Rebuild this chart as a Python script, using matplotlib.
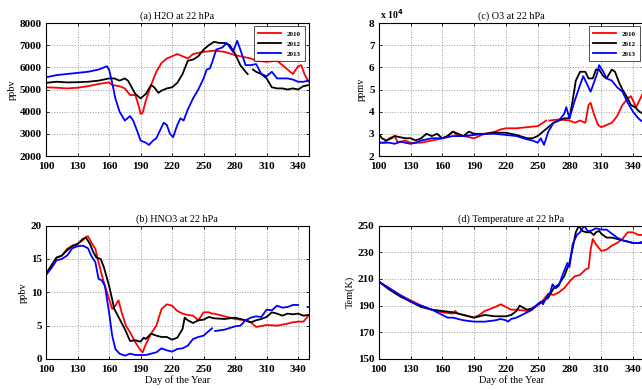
import numpy as np
import matplotlib
matplotlib.use('Agg')
import matplotlib.pyplot as plt

nan = np.nan

# (a) H2O at 22 hPa, ppbv
h2o_2010_day = [100, 110, 120, 130, 140, 150, 160, 163, 170, 175, 180, 185, 188, 190, 192, 195, 200, 205, 210, 215,
                220, 225, 230, 235, 240, 250, 260, 270, 280, 290, 295, 300, 310, 320, 325, 330, 335, 340, 343, 346, 350]
h2o_2010 = [5100, 5080, 5050, 5080, 5150, 5250, 5320, 5200, 5150, 5050, 4750, 4750, 4300, 3900, 3950, 4500, 5200, 5800,
            6200, 6400, 6500, 6600, 6500, 6400, 6600, 6700, 6750, 6700, 6550, 6450, 6400, 6300, 6250, 6300, 6100, 5900,
            5700, 6050, 6100, 5700, 5350]
h2o_2012_day = [100, 110, 120, 130, 140, 150, 160, 165, 170, 175, 178, 185, 190, 195, 200, 203, 207, 210, 215, 220,
                225, 230, 235, 240, 245, 250, 255, 260, 265, 270, 275, 280, 285, 290, 292, 294, 297, 300, 305, 310,
                315, 320, 325, 330, 335, 340, 345, 350]
h2o_2012 = [5300, 5350, 5320, 5330, 5350, 5400, 5500, 5500, 5400, 5500, 5400, 4800, 4600, 4800, 5200, 5100, 4850, 4950,
            5050, 5100, 5300, 5700, 6300, 6350, 6500, 6800, 7000, 7150, 7100, 7100, 7000, 6600, 6100, 5800, 5700, nan,
            5900, 5800, 5700, 5500, 5100, 5050, 5050, 5000, 5050, 5000, 5150, 5200]
h2o_2013_day = [100, 110, 120, 130, 140, 150, 158, 160, 163, 166, 170, 175, 180, 183, 187, 190, 195, 198, 202, 205,
                208, 212, 215, 218, 221, 225, 228, 231, 235, 240, 245, 250, 253, 256, 258, 262, 268, 272, 275, 278,
                282, 285, 290, 295, 300, 305, 310, 315, 320, 325, 330, 335, 340, 345, 350]
h2o_2013 = [5550, 5650, 5700, 5750, 5800, 5900, 6050, 5900, 5300, 4600, 4000, 3600, 3800, 3600, 3100, 2700, 2600, 2500,
            2700, 2800, 3100, 3500, 3400, 3000, 2850, 3400, 3700, 3600, 4100, 4600, 5000, 5500, 5900, 5950, 6200, 6800,
            6900, 7100, 6900, 6700, 7200, 6800, 6100, 6100, 6150, 5700, 5600, 5800, 5500, 5500, 5500, 5450, 5350, 5350,
            5400]

# (b) HNO3 at 22 hPa, ppbv
hno3_2010_day = [100, 105, 110, 115, 120, 125, 130, 135, 138, 140, 143, 147, 150, 155, 160, 163, 166, 169, 172, 176,
                 180, 185, 190, 192, 195, 200, 205, 210, 215, 220, 225, 230, 235, 240, 245, 250, 255, 258, 260, 270,
                 280, 290, 295, 300, 310, 320, 330, 335, 340, 345, 350]
hno3_2010 = [12.8, 14, 15.2, 15.5, 16.5, 17, 17.3, 17.8, 18.3, 18.4, 17.5, 16.5, 14.5, 11.5, 9, 7.5, 8, 8.8, 7, 5,
             4, 2.5, 1.3, 1, 2.2, 3.8, 5, 7.5, 8.2, 8, 7.2, 6.8, 6.6, 6.5, 5.8, 7, 7, 6.8, 6.8, 6.4,
             6, 5.8, 5.5, 4.8, 5.1, 5, 5.3, 5.5, 5.6, 5.6, 6.5]
hno3_2012_day = [100, 105, 110, 115, 120, 125, 130, 135, 138, 142, 145, 148, 152, 155, 160, 165, 170, 175, 180, 185,
                 190, 193, 195, 200, 205, 210, 215, 220, 225, 230, 232, 235, 240, 245, 250, 255, 260, 270, 280, 290,
                 295, 300, 305, 310, 315, 320, 325, 330, 335, 340, 345, 350]
hno3_2012 = [12.7, 14, 15.2, 15.5, 16.3, 16.9, 17.2, 18, 18.2, 17.2, 16, 15.2, 15, 13.8, 11, 7.5, 6, 4.5, 2.7, 2.8,
             2.6, 3.2, 3, 3.8, 3.5, 3.3, 3.3, 2.9, 3.2, 4.5, 6.2, 5.8, 5.4, 5.8, 5.9, 6.3, 6.1, 6, 6.2, 5.8,
             5.5, 5.8, 6, 6.3, 7, 6.8, 6.5, 6.8, 6.7, 6.8, 6.5, 6.6]
hno3_2013_day = [100, 105, 110, 115, 120, 125, 130, 135, 140, 143, 147, 150, 153, 156, 160, 163, 166, 170, 175, 180,
                 185, 190, 195, 200, 205, 210, 215, 220, 225, 230, 235, 240, 245, 250, 255, 258, 259, 261, 270, 280,
                 285, 290, 295, 300, 305, 310, 315, 320, 325, 330, 335, 340, 345, 349, 350]
hno3_2013 = [12.6, 13.6, 14.8, 15, 15.5, 16.6, 16.9, 17, 16.6, 15.5, 14.5, 12, 11.8, 11, 7, 3.5, 1.5, 0.8, 0.5, 0.8,
             0.6, 0.6, 0.6, 0.8, 1.0, 1.6, 1.3, 1.1, 1.5, 1.6, 2, 3, 3.3, 3.5, 4.2, 4.6, nan, 4.2, 4.4, 4.9,
             5.0, 5.8, 6.2, 6.4, 6.3, 7.4, 7.3, 8, 7.7, 7.8, 8.1, 8.1, nan, 7.8, 7.8]

# (c) O3 at 22 hPa, ppmv (x 10^4)
o3_2010_day = [100, 105, 110, 115, 118, 125, 130, 140, 150, 160, 165, 170, 175, 180, 190, 200, 210, 215, 220, 230,
               240, 250, 255, 258, 259, 261, 270, 280, 285, 290, 295, 298, 300, 303, 307, 310, 315, 320, 325, 330,
               335, 338, 340, 343, 346, 350]
o3_2010 = [2.6, 2.6, 2.8, 2.9, 2.6, 2.7, 2.6, 2.6, 2.7, 2.8, 2.9, 3.1, 2.9, 2.9, 2.8, 3.0, 3.1, 3.2, 3.25, 3.25,
           3.3, 3.35, 3.5, 3.6, nan, 3.6, 3.65, 3.6, 3.5, 3.6, 3.5, 4.3, 4.4, 3.9, 3.4, 3.3, 3.4, 3.5, 3.8, 4.3,
           4.6, 4.7, 4.5, 4.2, 4.5, 4.9]
o3_2012_day = [100, 103, 107, 112, 115, 120, 125, 130, 135, 140, 145, 150, 155, 160, 165, 170, 175, 180, 185, 190,
               200, 210, 220, 230, 240, 245, 250, 255, 260, 265, 270, 275, 280, 283, 286, 290, 295, 298, 302, 305,
               308, 312, 315, 320, 323, 327, 330, 335, 338, 342, 346, 350]
o3_2012 = [3.0, 2.8, 2.7, 2.8, 2.9, 2.85, 2.8, 2.8, 2.7, 2.8, 3.0, 2.9, 3.0, 2.8, 2.9, 3.1, 3.0, 2.9, 3.1, 3.0,
           3.0, 3.05, 3.05, 2.95, 2.8, 2.8, 2.9, 3.1, 3.3, 3.5, 3.6, 3.7, 3.7, 4.5, 5.4, 5.8, 5.8, 5.5, 5.5, 5.9,
           5.9, 5.6, 5.5, 5.9, 5.8, 5.3, 5.0, 4.6, 4.3, 4.2, 4.0, 3.9]
o3_2013_day = [100, 105, 110, 115, 120, 125, 130, 135, 140, 150, 160, 170, 180, 190, 200, 210, 220, 230, 240, 245,
               250, 253, 256, 260, 265, 270, 275, 277, 280, 285, 290, 293, 297, 300, 303, 306, 308, 312, 315, 320,
               325, 330, 335, 340, 345, 350]
o3_2013 = [2.6, 2.6, 2.6, 2.55, 2.65, 2.6, 2.55, 2.6, 2.7, 2.8, 2.8, 2.9, 2.9, 2.95, 3.0, 3.0, 2.95, 2.9, 2.75, 2.7,
           2.6, 2.8, 2.5, 3.1, 3.5, 3.6, 3.9, 4.2, 3.7, 4.5, 5.2, 5.6, 5.2, 4.9, 5.3, 5.7, 6.1, 5.8, 5.5, 5.4,
           5.1, 4.9, 4.4, 4.0, 3.7, 3.5]

# (d) Temperature at 22 hPa, K
t_2010_day = [100, 110, 120, 130, 140, 150, 160, 170, 172, 175, 180, 190, 195, 200, 210, 215, 220, 225, 230, 240,
              250, 255, 260, 265, 270, 275, 280, 285, 290, 295, 298, 300, 302, 305, 310, 315, 320, 325, 330, 335,
              340, 345, 350]
t_2010 = [208, 203, 198, 194, 190, 187, 185, 184, 186, 184, 183, 181, 183, 186, 189, 191, 189, 187, 187, 186,
          190, 194, 199, 198, 200, 203, 208, 212, 213, 217, 218, 232, 240, 236, 231, 232, 235, 237, 240, 245,
          245, 243, 243]
t_2012_day = [100, 110, 120, 130, 140, 150, 160, 170, 180, 185, 190, 200, 210, 220, 225, 230, 233, 235, 240, 245,
              250, 255, 260, 265, 270, 275, 278, 280, 283, 286, 289, 292, 296, 300, 303, 305, 308, 310, 315, 320,
              330, 335, 340, 345, 350]
t_2012 = [208, 202, 197, 193, 189, 187, 186, 185, 183, 182, 181, 183, 182, 182, 183, 186, 190, 189, 187, 188,
          191, 193, 196, 203, 206, 212, 218, 222, 233, 245, 250, 246, 245, 245, 243, 245, 246, 244, 241, 241,
          239, 238, 237, 237, 237]
t_2013_day = [100, 110, 120, 130, 140, 150, 160, 165, 170, 180, 190, 200, 210, 215, 220, 222, 225, 230, 235, 240,
              245, 250, 253, 255, 258, 262, 264, 267, 270, 273, 276, 278, 280, 283, 287, 290, 294, 297, 300, 305,
              310, 315, 320, 325, 330, 335, 340, 345, 350]
t_2013 = [208, 203, 198, 193, 190, 187, 183, 181, 181, 179, 178, 178, 179, 180, 179, 178, 180, 181, 183, 185,
          187, 191, 193, 191, 196, 200, 206, 203, 205, 212, 218, 222, 219, 236, 243, 245, 250, 246, 246, 248,
          247, 247, 244, 241, 239, 238, 237, 237, 238]

years = ['2010', '2012', '2013']
colors = ['#ff0000', '#000000', '#0000ff']
xticks = [100, 130, 160, 190, 220, 250, 280, 310, 340]

plt.rcParams['font.family'] = ['Liberation Serif', 'DejaVu Serif']
plt.rcParams['font.weight'] = 'bold'
plt.rcParams['font.size'] = 7

fig = plt.figure(figsize=(6.42, 3.90), dpi=100)

panels = [
    dict(pos=[0.0717, 0.600, 0.409, 0.341], title='(a) H2O at 22 hPa', ylabel='ppbv',
         ylim=(2000, 8000), yticks=range(2000, 8001, 1000), legend=True, xlabel=False,
         data=[(h2o_2010_day, h2o_2010), (h2o_2012_day, h2o_2012), (h2o_2013_day, h2o_2013)]),
    dict(pos=[0.0717, 0.0795, 0.409, 0.342], title='(b) HNO3 at 22 hPa', ylabel='ppbv',
         ylim=(0, 20), yticks=range(0, 21, 5), legend=False, xlabel=True,
         data=[(hno3_2010_day, hno3_2010), (hno3_2012_day, hno3_2012), (hno3_2013_day, hno3_2013)]),
    dict(pos=[0.590, 0.600, 0.4125, 0.341], title='(c) O3 at 22 hPa', ylabel='ppmv',
         ylim=(2, 8), yticks=range(2, 9), legend=True, xlabel=False,
         data=[(o3_2010_day, o3_2010), (o3_2012_day, o3_2012), (o3_2013_day, o3_2013)]),
    dict(pos=[0.590, 0.0795, 0.4125, 0.342], title='(d) Temperature at 22 hPa', ylabel='Tem(K)',
         ylim=(150, 250), yticks=range(150, 251, 20), legend=False, xlabel=True,
         data=[(t_2010_day, t_2010), (t_2012_day, t_2012), (t_2013_day, t_2013)]),
]

for p in panels:
    ax = fig.add_axes(p['pos'])
    for (d, v), yr, c in zip(p['data'], years, colors):
        ax.plot(d, v, color=c, lw=1.3, label=yr)
    ax.set_xlim(100, 350)
    ax.set_ylim(*p['ylim'])
    ax.set_xticks(xticks)
    ax.set_yticks(list(p['yticks']))
    ax.grid(True, color='#999999', linestyle=':', linewidth=0.7)
    ax.tick_params(direction='in', top=True, right=True, length=2.5, width=0.6, labelsize=8)
    ax.tick_params(axis='x', pad=4)
    ax.tick_params(axis='y', pad=3)
    for s in ax.spines.values():
        s.set_linewidth(0.8)
    ax.set_title(p['title'], fontsize=7.3, pad=3)
    ax.set_ylabel(p['ylabel'], fontsize=7.5, labelpad=2)
    if p['xlabel']:
        ax.set_xlabel('Day of the Year', fontsize=7.5, labelpad=1)
    if p['legend']:
        leg = ax.legend(loc='upper right', fontsize=5, frameon=True, fancybox=False,
                        borderaxespad=0.5, handlelength=3.4, labelspacing=0.6, borderpad=0.6)
        leg.get_frame().set_edgecolor('black')
        leg.get_frame().set_linewidth(0.6)
    if p['ylabel'] == 'ppmv':
        ax.text(0.005, 1.015, r'x 10$^{4}$', transform=ax.transAxes, fontsize=7, ha='left', va='bottom')

fig.savefig('out.png', dpi=100)
